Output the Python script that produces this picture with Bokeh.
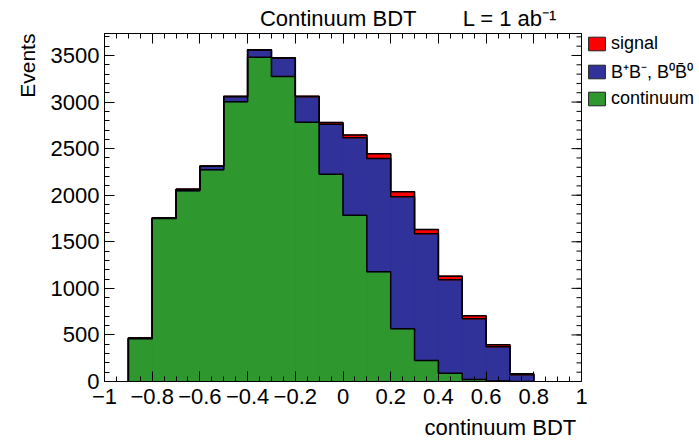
import numpy as np
from bokeh.plotting import figure
from bokeh.models import Range1d, FixedTicker, LinearAxis, Legend, LegendItem, ColumnDataSource, Span
from bokeh.embed import file_html
from bokeh.resources import INLINE

# ---------------- data ----------------
bin_edges = [-0.9, -0.8, -0.7, -0.6, -0.5, -0.4, -0.3, -0.2, -0.1, 0.0,
             0.1, 0.2, 0.3, 0.4, 0.5, 0.6, 0.7, 0.8]
continuum = [460, 1750, 2047, 2273, 3003, 3482, 3275, 2784, 2226, 1785,
             1178, 566, 225, 89, 21, 5, 0]
bbbar = [6, 5, 15, 37, 55, 77, 197, 272, 537, 831,
         1216, 1417, 1360, 1003, 652, 367, 72]
signal = [2, 2, 3, 3, 3, 3, 3, 6, 18, 29,
          50, 53, 47, 39, 32, 22, 10]

series_names = ["signal", "B\u207aB\u207b, B\u2070B\u0304\u2070", "continuum"]
series_colors = ["#ff0000", "#31319a", "#2e982e"]

x_ticks = [-1.0, -0.8, -0.6, -0.4, -0.2, 0.0, 0.2, 0.4, 0.6, 0.8, 1.0]
x_tick_labels = ["\u22121", "\u22120.8", "\u22120.6", "\u22120.4", "\u22120.2", "0",
                 "0.2", "0.4", "0.6", "0.8", "1"]
y_ticks = [0, 500, 1000, 1500, 2000, 2500, 3000, 3500]
y_tick_labels = ["0", "500", "1000", "1500", "2000", "2500", "3000", "3500"]

title_text = "Continuum BDT"
lumi_text = "L = 1 ab\u207b\u00b9"
x_title = "continuum BDT"
y_title = "Events"

FONT = "Liberation Sans"
W, H = 699, 442

# ---------------- geometry ----------------
X_MIN, X_MAX = -1.0, 1.0          # axis extent of the histogram box
LEFT_B, BOX_R = 104, 581          # pixel positions of box left / right edge
PX_PER_X = (BOX_R - LEFT_B) / (X_MAX - X_MIN)
x_end = X_MAX + (W - BOX_R) / PX_PER_X   # frame extends to the window edge to host the legend
y_max = 3736

p = figure(width=W, height=H, x_range=Range1d(X_MIN, x_end), y_range=Range1d(0, y_max),
           output_backend="svg", toolbar_location=None,
           min_border_left=LEFT_B, min_border_right=0, min_border_top=33, min_border_bottom=61)
p.grid.visible = False
p.outline_line_color = None

x_minor = [round(v, 2) for v in np.arange(-1.0, 1.0001, 0.05)]
y_minor = list(range(0, y_max, 100))

def style_axis(ax, ticks, minor, labels, show_labels):
    ax.ticker = FixedTicker(ticks=ticks, minor_ticks=minor)
    ax.major_tick_in = 10
    ax.major_tick_out = 0
    ax.minor_tick_in = 5
    ax.minor_tick_out = 0
    ax.axis_line_color = "black"
    ax.major_tick_line_color = "black"
    ax.minor_tick_line_color = "black"
    ax.major_label_text_font = FONT
    ax.major_label_text_color = "black"
    if show_labels:
        ax.major_label_text_font_size = "22px"
        ax.major_label_overrides = {t: l for t, l in zip(ticks, labels)}
    else:
        ax.major_label_text_font_size = "0px"
        ax.major_label_standoff = 0
        ax.major_label_text_alpha = 0

style_axis(p.xaxis[0], x_ticks, x_minor, x_tick_labels, True)
p.xaxis[0].bounds = (X_MIN, X_MAX)
p.xaxis[0].major_label_standoff = 7
style_axis(p.yaxis[0], y_ticks, y_minor, y_tick_labels, True)
p.yaxis[0].major_label_standoff = 5

top_ax = LinearAxis()
style_axis(top_ax, x_ticks, x_minor, x_tick_labels, False)
top_ax.bounds = (X_MIN, X_MAX)
p.add_layout(top_ax, "above")

def text_axis(positions, texts, standoff, size="22px", orientation=None):
    ax = LinearAxis(ticker=FixedTicker(ticks=positions, minor_ticks=[]))
    ax.axis_line_color = None
    ax.major_tick_line_color = None
    ax.minor_tick_line_color = None
    ax.major_tick_in = 0
    ax.major_tick_out = 0
    ax.minor_tick_in = 0
    ax.minor_tick_out = 0
    ax.major_label_standoff = standoff
    ax.major_label_text_font = FONT
    ax.major_label_text_font_size = size
    ax.major_label_text_color = "black"
    ax.major_label_overrides = {t: l for t, l in zip(positions, texts)}
    if orientation is not None:
        ax.major_label_orientation = orientation
    return ax

# header row: title and luminosity
p.add_layout(text_axis([-0.02, 0.70], [title_text, lumi_text], 3), "above")
# axis titles, aligned at the ends of the axes like the original
p.add_layout(text_axis([0.66], [x_title], 8), "below")
p.add_layout(text_axis([y_max - 1], [y_title], 20, "21px", np.pi / 2), "left")

# right edge of the box with its inward ticks
p.add_layout(Span(location=X_MAX, dimension="height", line_color="black", line_width=1))
major_len = 10 / PX_PER_X
minor_len = 5 / PX_PER_X
p.segment(x0=[X_MAX - major_len] * len(y_ticks), y0=y_ticks, x1=[X_MAX] * len(y_ticks), y1=y_ticks,
          line_color="black", line_width=1)
p.segment(x0=[X_MAX - minor_len] * len(y_minor), y0=y_minor, x1=[X_MAX] * len(y_minor), y1=y_minor,
          line_color="black", line_width=1)

# ---------------- stacked histogram ----------------
left = bin_edges[:-1]
right = bin_edges[1:]
c0 = np.array(continuum, dtype=float)
c1 = c0 + np.array(bbbar, dtype=float)
c2 = c1 + np.array(signal, dtype=float)

layers = [(np.zeros_like(c0), c0, series_colors[2]),
          (c0, c1, series_colors[1]),
          (c1, c2, series_colors[0])]
sources = [ColumnDataSource(dict(left=left, right=right, bottom=b, top=t)) for b, t, _ in layers]

outlined = []
for src, (_, _, col) in zip(sources, layers):
    outlined.append(p.quad(left="left", right="right", bottom="bottom", top="top", source=src,
                           fill_color=col, line_color="#222222", line_width=1))
for src, (_, _, col) in zip(sources, layers):
    p.quad(left="left", right="right", bottom="bottom", top="top", source=src,
           fill_color=col, line_color=col, line_width=1)

def step_outline(vals):
    xs = [bin_edges[0]]
    ys = [0.0]
    for i, v in enumerate(vals):
        xs += [bin_edges[i], bin_edges[i + 1]]
        ys += [v, v]
    xs.append(bin_edges[-1])
    ys.append(0.0)
    return xs, ys

for cum in (c2, c1, c0):
    xs, ys = step_outline(cum)
    p.line(xs, ys, line_color="black", line_width=1.5)

# ---------------- legend (right of the box) ----------------
legend_items = [LegendItem(label=series_names[0], renderers=[outlined[2]]),
                LegendItem(label=series_names[1], renderers=[outlined[1]]),
                LegendItem(label=series_names[2], renderers=[outlined[0]])]

legend = Legend(items=legend_items, location=(479, 269))
legend.label_text_font = FONT
legend.label_text_font_size = "18px"
legend.label_text_color = "black"
legend.glyph_width = 21
legend.glyph_height = 17
legend.label_height = 17
legend.label_standoff = 4
legend.padding = 3
legend.spacing = 5
legend.margin = 0
legend.background_fill_alpha = 0
legend.border_line_alpha = 0
p.add_layout(legend)

open("out.html", "w").write(file_html(p, INLINE))
